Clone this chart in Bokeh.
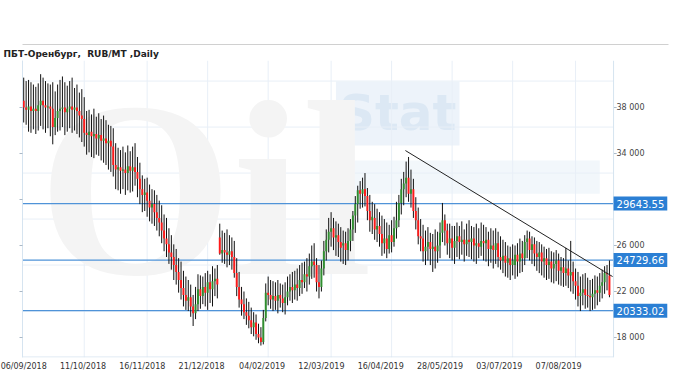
from bokeh.plotting import figure
from bokeh.models import (ColumnDataSource, Range1d, LinearAxis, FixedTicker, Span,
                          Label, Title, BoxAnnotation)
from bokeh.embed import file_html
from bokeh.resources import INLINE

# ---- data (RUB/MT, daily OHLC) ----
open_ = [38600, 38000, 37800, 38100, 37700, 37900, 37700, 38200, 38600, 38200,
         38000, 38100, 37900, 36300, 37100, 37700, 37900, 38000, 37600, 37900,
         38100, 37800, 38000, 37700, 37300, 37000, 35800, 35600, 35900, 35500,
         35700, 35300, 35600, 35100, 35300, 34900, 35100, 34600, 33000, 32600,
         32800, 32500, 32600, 32300, 32900, 32500, 32800, 32400, 31800, 30900,
         30400, 30600, 29900, 29300, 29600, 28900, 28400, 28000, 27300, 26600,
         26100, 25400, 25000, 24300, 23700, 23000, 22300, 21700, 21200, 21500,
         20700, 20100, 20900, 22200, 21600, 22400, 21900, 22800, 22200, 22900,
         23100, 26700, 25300, 25600, 25400, 25200, 25500, 25000, 23600, 22400,
         21300, 20900, 20200, 19900, 19500, 18900, 19300, 18300, 18000, 17600,
         19700, 21900, 21700, 21300, 21600, 21200, 21700, 21400, 21000, 21500,
         22000, 22400, 22100, 22600, 22300, 23000, 22800, 23500, 23300, 24200,
         24600, 24300, 22800, 22400, 24000, 25500, 26500, 27200, 27500, 26700,
         26900, 26300, 26000, 26200, 25600, 26400, 27400, 28600, 29600, 30800,
         30500, 30900, 30300, 29000, 28200, 28400, 27400, 27700, 27000, 26200,
         26600, 25700, 26900, 26300, 27500, 28200, 29700, 30900, 31400, 31900,
         30500, 30900, 29000, 28200, 26800, 26600, 25500, 25900, 26300, 25700,
         25900, 25500, 26000, 27100, 28200, 27300, 26200, 26600, 25800, 26400,
         26800, 26300, 26500, 26100, 26500, 26300, 26600, 26000, 26200, 25900,
         26400, 26200, 26500, 25700, 26000, 25600, 26200, 25000, 24700, 25100,
         24500, 24900, 24300, 24300, 25200, 24600, 25300, 24900, 26300, 26600,
         25600, 26100, 25300, 25000, 25400, 24600, 24900, 24300, 24600, 24000,
         24400, 24700, 23800, 24100, 23600, 24000, 23400, 23700, 22900, 22500,
         21600, 21900, 22200, 21700, 21600, 21500, 21800, 22100, 21900, 22500,
         22800, 23600, 23400]
close = [38000, 37800, 38100, 37700, 37900, 37700, 38200, 38600, 38200, 38000,
         38100, 37900, 36300, 37100, 37700, 37900, 38000, 37600, 37900, 38100,
         37800, 38000, 37700, 37300, 37000, 35800, 35600, 35900, 35500, 35700,
         35300, 35600, 35100, 35300, 34900, 35100, 34600, 33000, 32600, 32800,
         32500, 32600, 32300, 32900, 32500, 32800, 32400, 31800, 30900, 30400,
         30600, 29900, 29300, 29600, 28900, 28400, 28000, 27300, 26600, 26100,
         25400, 25000, 24300, 23700, 23000, 22300, 21700, 21200, 21500, 20700,
         20100, 20900, 22200, 21600, 22400, 21900, 22800, 22200, 22900, 23100,
         22600, 25300, 25600, 25400, 25200, 25500, 25000, 23600, 22400, 21300,
         20900, 20200, 19900, 19500, 18900, 19300, 18300, 18000, 17600, 19700,
         21900, 21700, 21300, 21600, 21200, 21700, 21400, 21000, 21500, 22000,
         22400, 22100, 22600, 22300, 23000, 22800, 23500, 23300, 24200, 24600,
         24300, 22800, 22400, 24000, 25500, 26500, 27200, 27500, 26700, 26900,
         26300, 25800, 26200, 25600, 26400, 27400, 28600, 29600, 30800, 30500,
         30900, 30300, 29000, 28200, 28500, 27400, 27700, 27000, 26200, 26600,
         25700, 26900, 26300, 27500, 28200, 29700, 30900, 31400, 31900, 30500,
         30900, 29000, 28200, 26800, 26600, 25500, 25900, 26300, 25700, 25900,
         25500, 26000, 27100, 28200, 27300, 26200, 26600, 25800, 26400, 26800,
         26300, 26500, 26100, 26500, 26300, 26600, 26000, 26200, 25900, 26400,
         26200, 26500, 25700, 26000, 25600, 26200, 25000, 24700, 25100, 24500,
         24900, 24300, 24700, 25200, 24600, 25300, 24900, 26300, 26600, 25600,
         26100, 25300, 25000, 25400, 24600, 24900, 24300, 24600, 24000, 24400,
         24700, 23800, 24100, 23600, 24000, 23400, 23700, 22900, 22500, 21600,
         21900, 22200, 21700, 21600, 21500, 21800, 22100, 21900, 22500, 22800,
         23600, 23500, 21700]
high = [40600, 40300, 40400, 40200, 40000, 39800, 40100, 40900, 40600, 40300,
        40100, 40000, 40200, 39400, 40000, 40400, 40700, 40200, 39900, 40300,
        40600, 39700, 40000, 39300, 39600, 38900, 37700, 37800, 37400, 37900,
        37200, 37500, 37000, 37300, 36900, 36500, 36400, 36200, 34900, 34500,
        34300, 34600, 34100, 34700, 34200, 34600, 34900, 33700, 33200, 32100,
        31800, 31900, 31300, 30900, 30800, 30400, 29900, 29500, 28700, 28400,
        27500, 26900, 26100, 25700, 24900, 24600, 23800, 23300, 23000, 22600,
        21700, 22400, 23500, 23400, 23300, 23600, 23800, 23500, 24200, 24000,
        24300, 27900, 27300, 27100, 27400, 26900, 26700, 26400, 24900, 23700,
        22400, 22000, 21400, 21100, 20600, 20200, 20000, 19200, 18900, 20400,
        22700, 23300, 23000, 22900, 22800, 23000, 22700, 22600, 22800, 23300,
        23500, 23700, 23800, 24000, 24300, 24500, 24600, 24900, 25300, 26000,
        26200, 24900, 24300, 24700, 26400, 27400, 28400, 28900, 28400, 28100,
        27900, 27600, 27300, 27200, 27500, 28300, 29000, 30300, 31200, 31600,
        31900, 32300, 31000, 30400, 29800, 29600, 29200, 28900, 28600, 28300,
        28000, 27800, 28200, 28500, 29800, 30400, 31800, 32400, 33300, 33700,
        32600, 31800, 30200, 29300, 28300, 27800, 27300, 27600, 27100, 27000,
        27400, 27200, 28000, 29700, 28700, 27900, 27900, 27700, 27700, 28000,
        27700, 28100, 27400, 27900, 28200, 27700, 27600, 27900, 27500, 28000,
        27800, 27600, 27200, 27500, 27300, 27500, 27200, 26800, 26500, 26300,
        26000, 25900, 26100, 26000, 26200, 26600, 26400, 26900, 27300, 27200,
        26800, 26700, 26400, 26300, 26100, 25900, 25700, 25800, 25500, 25400,
        25600, 25300, 25000, 24900, 25800, 24700, 26400, 24600, 24000, 23700,
        23300, 23500, 23600, 23200, 23000, 23100, 23400, 23300, 23600, 23900,
        24200, 24300, 24700]
low = [36700, 36500, 35900, 35800, 36100, 35700, 36000, 36400, 36100, 35800,
       36200, 35500, 34800, 35600, 35900, 36000, 36300, 35600, 35900, 36200,
       35800, 36000, 35700, 35400, 35000, 34600, 33900, 34100, 33700, 33600,
       33900, 33800, 33400, 33200, 33000, 32600, 32400, 32000, 30900, 30800,
       30500, 30900, 30400, 30800, 30600, 30700, 31200, 30200, 29600, 28900,
       29000, 28500, 28100, 27900, 27700, 27300, 26800, 26200, 25500, 25000,
       24400, 23900, 23000, 22600, 21900, 21300, 20700, 20400, 20300, 19800,
       19000, 19600, 20300, 20500, 20900, 20700, 20400, 21000, 20700, 21600,
       21400, 25200, 24500, 24400, 24100, 24300, 23900, 23200, 21600, 20600,
       19900, 19600, 19100, 18800, 18300, 18100, 17800, 17500, 17300, 17400,
       19400, 20800, 20500, 20300, 20400, 20100, 20600, 20200, 20000, 20800,
       21200, 21000, 21300, 21200, 21600, 21800, 22300, 22000, 22600, 23100,
       23200, 22000, 21400, 22000, 23400, 24700, 25400, 25900, 25600, 25100,
       25000, 24600, 24400, 24300, 24700, 25500, 26400, 27100, 28000, 29200,
       29300, 29400, 28200, 27200, 27000, 26500, 26300, 25900, 25100, 25300,
       24900, 25300, 25400, 25900, 26600, 27600, 28700, 29500, 30200, 29800,
       29300, 28400, 27400, 26100, 25500, 24600, 24300, 24700, 24300, 23700,
       24000, 24500, 24900, 26300, 26000, 25200, 24900, 24700, 24400, 25000,
       24800, 25200, 24600, 25100, 25000, 24800, 24600, 24400, 24900, 25100,
       24700, 24600, 24200, 24500, 24000, 24400, 24100, 23900, 23600, 23300,
       23200, 23000, 23400, 23100, 23300, 23600, 23700, 24300, 24900, 24700,
       24400, 24200, 23800, 23600, 23400, 23200, 23000, 23100, 22800, 22700,
       22900, 22600, 22500, 22400, 22500, 22300, 22000, 21800, 21300, 20700,
       20300, 20800, 20500, 20600, 20300, 20400, 20500, 20800, 21100, 21400,
       21800, 22100, 21500]

# date labels of the bottom axis (trading-day index -> label)
date_tick_pos = [0, 24.5, 49, 73.5, 98.5, 123, 147.5, 172, 196.5, 221]
date_labels = ["06/09/2018", "11/10/2018", "16/11/2018", "21/12/2018", "04/02/2019",
               "12/03/2019", "16/04/2019", "28/05/2019", "03/07/2019", "07/08/2019"]
grid_x = [25, 51, 76, 101, 127, 152, 177, 202, 228]

price_ticks = [18000, 22000, 26000, 30000, 34000, 38000]
price_labels = {18000: "18 000", 22000: "22 000", 26000: "26 000",
                30000: "", 34000: "34 000", 38000: "38 000"}
grid_y = [20300, 24300, 28300, 32300, 36300, 40300]

levels = [29643.55, 24729.66, 20333.02]
level_labels = ["29643.55", "24729.66", "20333.02"]

trend_x = [157.7, 243.3]
trend_y = [34260, 23300]

TITLE = "ПБТ-Оренбург,\u00a0 RUB/MT ,Daily"

# ---- figure ----
N = len(close)
idx = list(range(N))
body_color = ["#ff1a1a" if c < o else ("#2f8f2f" if c > o else "#000000")
              for o, c in zip(open_, close)]
src = ColumnDataSource(dict(x=idx, o=open_, c=close, h=high, l=low, col=body_color))

X0, XA, X1 = -0.5, 243.7, 266.4      # left edge, price-axis position, frame edge
Y0, Y1 = 16260, 42090
p = figure(width=680, height=380, output_backend="svg", toolbar_location=None,
           x_range=Range1d(X0, X1), y_range=Range1d(Y0, Y1),
           y_axis_location="right", title=None,
           min_border_left=22, min_border_right=12, min_border_top=60,
           min_border_bottom=23, background_fill_color="white",
           border_fill_color="white", outline_line_color=None)

FONT = "DejaVu Sans"
AX = "#d6e4f0"
GRID = "#e8eff7"

# title + header rule (title nearest to the frame, rule above it)
p.add_layout(Title(text=TITLE, align="left", offset=-19, standoff=4,
                   text_font=FONT, text_font_size="9px", text_font_style="bold",
                   text_color="#222222"), "above")
rule = LinearAxis(ticker=FixedTicker(ticks=[]), axis_line_color="#d0d0d0",
                  major_tick_out=0, major_tick_in=0, minor_tick_out=0,
                  major_label_standoff=0)
p.add_layout(rule, "above")

# bottom axis (dates)
xa = p.below[0]
xa.ticker = FixedTicker(ticks=date_tick_pos)
xa.major_label_overrides = {t: l for t, l in zip(date_tick_pos, date_labels)}
xa.axis_line_color = None
xa.major_tick_line_color = None
xa.major_tick_out = 0
xa.major_tick_in = 0
xa.minor_tick_line_color = None
xa.major_label_text_font = FONT
xa.major_label_text_font_size = "8px"
xa.major_label_text_color = "#333333"
xa.major_label_standoff = 4

# price axis on the right (labels pulled back next to the price-axis line)
ya = p.right[0]
ya.ticker = FixedTicker(ticks=price_ticks)
ya.major_label_overrides = price_labels
ya.axis_line_color = None
ya.major_tick_line_color = None
ya.major_tick_out = 0
ya.major_tick_in = 0
ya.minor_tick_line_color = None
ya.major_label_text_font = FONT
ya.major_label_text_font_size = "8px"
ya.major_label_text_color = "#444444"
ya.major_label_standoff = -52

# left axis without labels
la = LinearAxis(ticker=FixedTicker(ticks=price_ticks),
                major_label_overrides={t: "" for t in price_ticks})
la.axis_line_color = AX
la.major_tick_line_color = "#aab8c6"
la.major_tick_out = 3
la.major_tick_in = 0
la.minor_tick_line_color = None
la.major_label_text_font_size = "1px"
la.major_label_standoff = 0
p.add_layout(la, "left")

# grids (limited to the chart area left of the price axis)
p.xgrid.visible = False
p.ygrid.visible = False
p.segment(x0=grid_x, x1=grid_x, y0=[Y0] * len(grid_x), y1=[Y1] * len(grid_x),
          line_color=GRID, line_width=1)
p.segment(x0=[X0] * len(grid_y), x1=[XA] * len(grid_y), y0=grid_y, y1=grid_y,
          line_color=GRID, line_width=1)

# faint watermark
p.add_layout(BoxAnnotation(left=128, right=238, bottom=30500, top=33400,
                           fill_color="#f2f7fb", fill_alpha=1, line_color=None,
                           level="underlay"))
p.text(x=[6], y=[18800], text=["Oil"], text_font_size="250px",
       text_font_style="bold", text_color="#f4f4f4", text_font=FONT)
p.add_layout(Label(x=129, y=34700, text="Stat", text_font=FONT,
                   text_font_size="50px", text_font_style="bold",
                   text_color="#dce8f4", background_fill_color="#edf3fa",
                   padding=3, level="underlay"))

# price-axis line, its ticks and the bottom axis line
p.add_layout(Span(location=XA, dimension="height", line_color=AX, line_width=1))
p.segment(x0=[XA] * len(price_ticks), x1=[XA + 1.3] * len(price_ticks),
          y0=price_ticks, y1=price_ticks, line_color="#aab8c6", line_width=1)
p.segment(x0=[X0], x1=[XA], y0=[Y0 + 40], y1=[Y0 + 40], line_color=AX, line_width=1)

# level lines
p.segment(x0=[X0] * len(levels), x1=[XA] * len(levels), y0=levels, y1=levels,
          line_color="#4f93d8", line_width=1.3)

# candles
p.segment(x0="x", x1="x", y0="l", y1="h", source=src, line_color="#111111",
          line_width=1)
p.vbar(x="x", width=0.8, top="o", bottom="c", source=src, fill_color="col",
       line_color=None)

# trend line
p.line(x=trend_x, y=trend_y, line_color="#222222", line_width=1)

# level value labels
for v, t in zip(levels, level_labels):
    p.add_layout(Label(x=XA, y=v, text=t, text_baseline="middle",
                       text_align="left", text_color="white", text_font=FONT,
                       text_font_size="10px", background_fill_color="#2b7fd4",
                       padding=3))

open("out.html", "w").write(file_html(p, INLINE))
